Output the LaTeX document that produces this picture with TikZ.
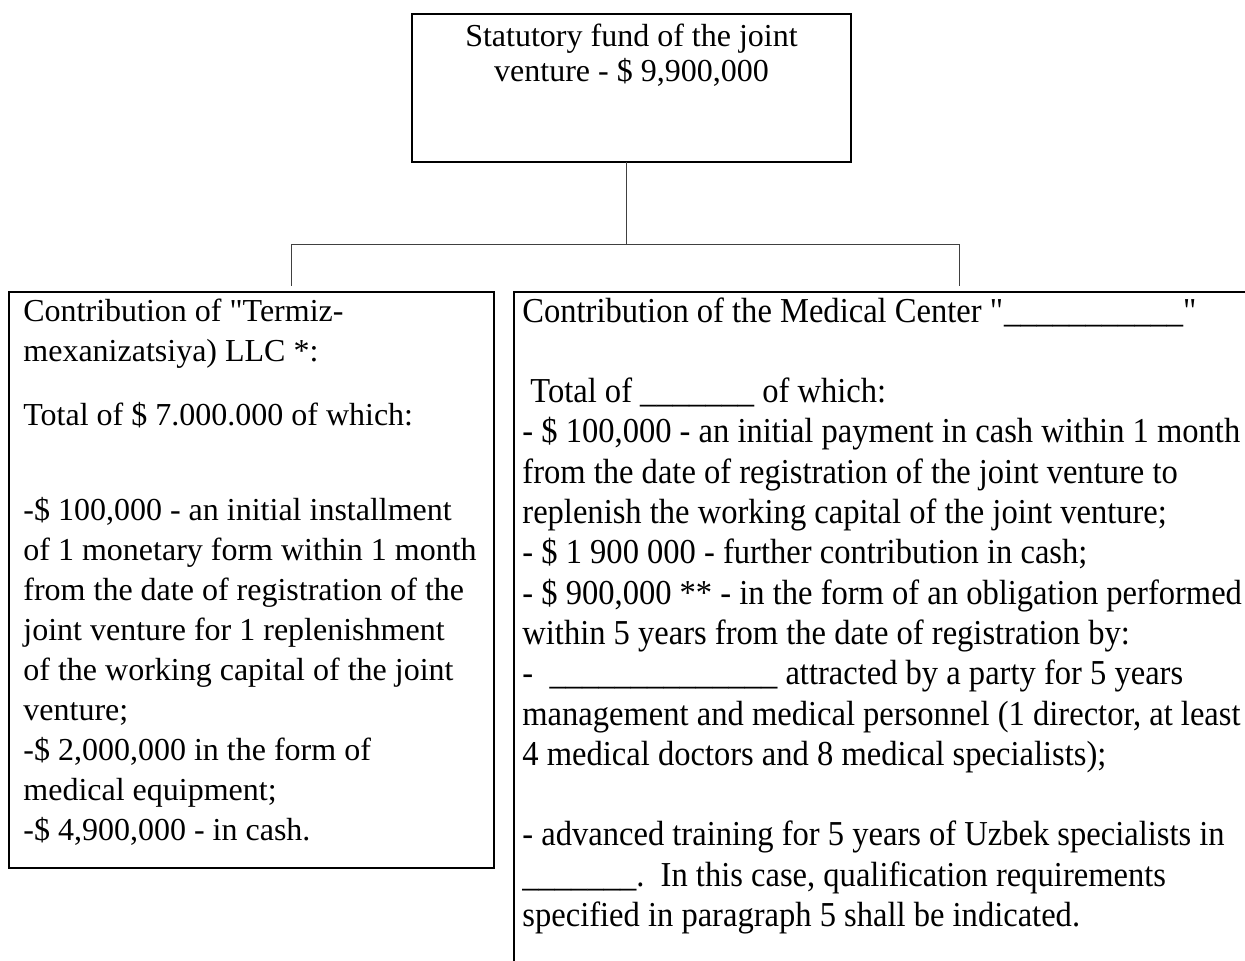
\documentclass[tikz,border=0pt]{standalone}
\usepackage{fontspec}
\setmainfont{Liberation Serif}
\newfontfamily\medfont[FakeStretch=0.93]{Liberation Serif}

\begin{document}
\begin{tikzpicture}[x=0.5pt,y=-0.5pt,
	frame/.style={draw, line width=1pt, inner sep=0pt, outer sep=0pt, anchor=north west},
	link/.style={draw=black!75, line width=0.5pt},
	toptext/.style={anchor=north, align=center, inner sep=0pt, font=\fontsize{16}{17.5}\selectfont},
	lefttext/.style={anchor=north west, align=left, inner sep=0pt, font=\fontsize{16}{20}\selectfont},
	medtext/.style={anchor=north west, align=left, inner sep=0pt, font=\medfont\fontsize{17.5}{20.15}\selectfont}]
	%\draw[help lines] (0,0) grid[step=50] (1245,961);
	\useasboundingbox (0,0) rectangle (1245,961);
	\node[frame, minimum width=219.5pt, minimum height=74pt] (fund) at (412,14) {};
	\node[toptext] (fundtext) at (631.5,24) {Statutory fund of the joint\\venture - \$ 9,900,000};
	\node[frame, minimum width=242.5pt, minimum height=288pt] (termiz) at (9,292) {};
	\node[frame, draw=none, minimum width=365.5pt, minimum height=334.5pt] (medical) at (514,292) {};
	\draw[line width=1pt] (medical.north east) -| (medical.south west);
	\coordinate (busmid) at (626,245);
	\coordinate (busL) at (291,245);
	\coordinate (busR) at (959,245);
	\coordinate (dropL) at (291,286);
	\coordinate (dropR) at (959,286);
	\draw[link] (fund.south -| busmid) -- (busmid);
	\draw[link] (dropL) -- (busL) -- (busR) -- (dropR);
	\node[lefttext] (termiztext) at (23,299) {Contribution of \textquotedbl Termiz-\\
		mexanizatsiya) LLC *:\\[12pt]
		Total of \$ 7.000.000 of which:\\[27.5pt]
		-\$ 100,000 - an initial installment\\
		of 1 monetary form within 1 month\\
		from the date of registration of the\\
		joint venture for 1 replenishment\\
		of the working capital of the joint\\
		venture;\\
		-\$ 2,000,000 in the form of\\
		medical equipment;\\
		-\$ 4,900,000 - in cash.};
	\node[medtext] (medicaltext) at (522,297) {Contribution of the Medical Center \textquotedbl\_\_\_\_\_\_\_\_\_\_\_\textquotedbl\\[20.15pt]
		\hspace{4pt}Total of \_\_\_\_\_\_\_ of which:\\
		- \$ 100,000 - an initial payment in cash within 1 month\\
		from the date of registration of the joint venture to\\
		replenish the working capital of the joint venture;\\
		- \$ 1 900 000 - further contribution in cash;\\
		- \$ 900,000 ** - in the form of an obligation performed\\
		within 5 years from the date of registration by:\\
		-\ \ \_\_\_\_\_\_\_\_\_\_\_\_\_\_ attracted by a party for 5 years\\
		management and medical personnel (1 director, at least\\
		4 medical doctors and 8 medical specialists);\\[20.15pt]
		- advanced training for 5 years of Uzbek specialists in\\
		\_\_\_\_\_\_\_.\ \ In this case, qualification requirements\\
		specified in paragraph 5 shall be indicated.};
\end{tikzpicture}
\end{document}
